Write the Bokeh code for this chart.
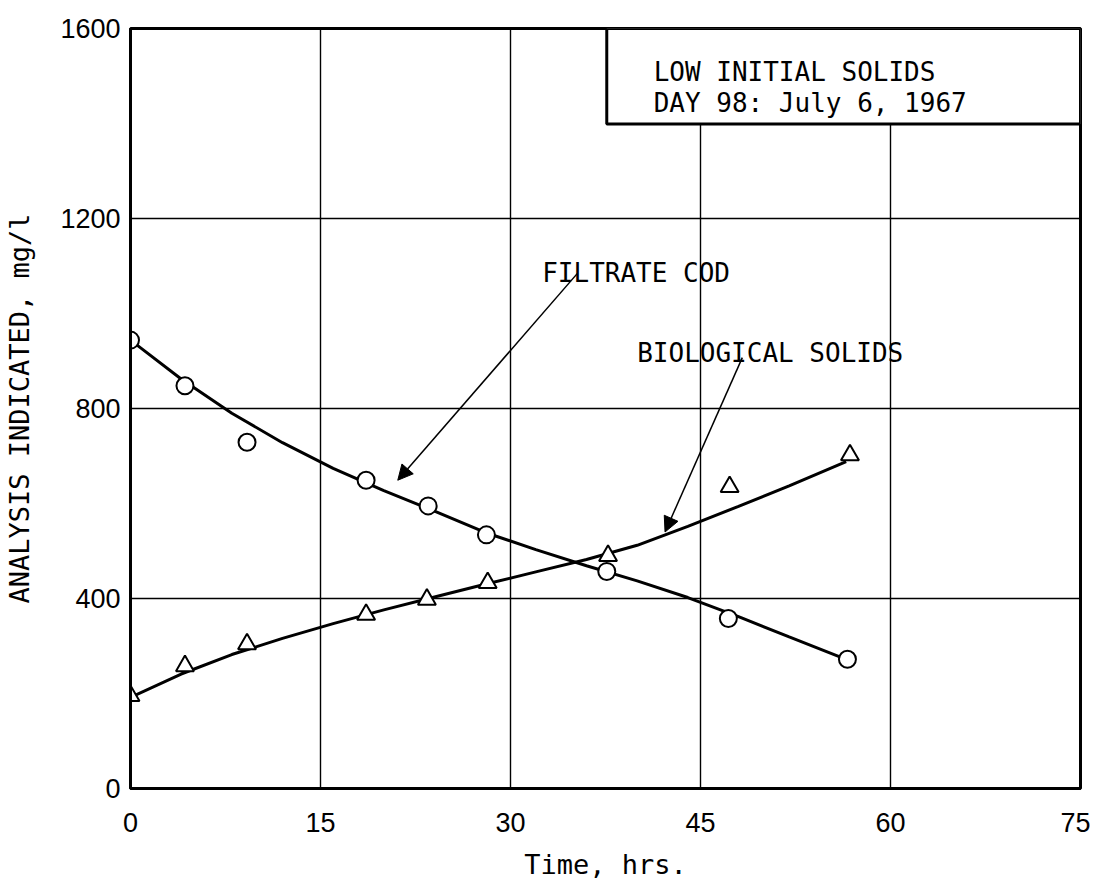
from bokeh.plotting import figure
from bokeh.models import Range1d, FixedTicker, Arrow, NormalHead, Label, BoxAnnotation
from bokeh.embed import file_html
from bokeh.resources import INLINE

# ---- data ----
cod_time = [0, 4.3, 9.2, 18.6, 23.5, 28.1, 37.6, 47.2, 56.6]
cod_mgl = [944, 848, 729, 649, 595, 534, 457, 358, 272]

solids_time = [0, 4.3, 9.2, 18.6, 23.4, 28.2, 37.7, 47.3, 56.8]
solids_mgl = [195, 258, 304, 366, 398, 433, 490, 635, 702]

# hand-drawn fitted curves
curve_time = [0, 4, 8, 12, 16, 20, 24, 28, 32, 36, 40, 44, 48, 52, 56.5]
cod_curve = [944, 862, 790, 728, 674, 627, 584, 539, 503, 469, 437, 402, 362, 319, 272]
solids_curve = [192, 241, 282, 316, 347, 376, 403, 430, 456, 482, 512, 552, 594, 637, 688]

x_ticks = [0, 15, 30, 45, 60, 75]
y_ticks = [0, 400, 800, 1200, 1600]

title_lines = ["LOW INITIAL SOLIDS", "DAY 98: July 6, 1967"]
label_cod = "FILTRATE COD"
label_solids = "BIOLOGICAL SOLIDS"

MONO = "DejaVu Sans Mono"
TICKFONT = "Liberation Sans"

p = figure(width=1090, height=882,
           x_range=Range1d(0, 75), y_range=Range1d(0, 1600),
           output_backend="svg", toolbar_location=None,
           min_border_left=130, min_border_right=10,
           min_border_top=28, min_border_bottom=89)

p.background_fill_color = "white"
p.border_fill_color = "white"
p.outline_line_color = "black"
p.outline_line_width = 3

# axes
for ax, ticks in ((p.xaxis[0], x_ticks), (p.yaxis[0], y_ticks)):
    ax.ticker = FixedTicker(ticks=ticks)
    ax.axis_line_width = 3
    ax.axis_line_color = "black"
    ax.major_tick_line_color = None
    ax.minor_tick_line_color = None
    ax.major_label_text_font = TICKFONT
    ax.major_label_text_font_size = "27px"
    ax.major_label_text_color = "black"
    ax.axis_label_text_font = MONO
    ax.axis_label_text_font_size = "27px"
    ax.axis_label_text_font_style = "normal"
    ax.axis_label_text_color = "black"

p.xaxis.axis_label = "Time, hrs."
p.yaxis.axis_label = "ANALYSIS INDICATED, mg/l"
p.xaxis.major_label_standoff = 18
p.yaxis.major_label_standoff = 4
p.xaxis.axis_label_standoff = 14
p.yaxis.axis_label_standoff = 22

# grid
p.xgrid.ticker = FixedTicker(ticks=x_ticks)
p.ygrid.ticker = FixedTicker(ticks=y_ticks)
for g in (p.xgrid[0], p.ygrid[0]):
    g.grid_line_color = "black"
    g.grid_line_width = 1.4

# curves and points
p.line(curve_time, cod_curve, line_color="black", line_width=3)
p.line(curve_time, solids_curve, line_color="black", line_width=3)
p.scatter(cod_time, cod_mgl, marker="circle", size=17,
          fill_color="white", line_color="black", line_width=2)
p.scatter(solids_time, solids_mgl, marker="triangle", size=18,
          fill_color="white", line_color="black", line_width=2)

# title box (top-right)
p.add_layout(BoxAnnotation(left=37.6, right=75, bottom=1399, top=1600,
                           fill_color="white", fill_alpha=1.0,
                           line_color="black", line_width=3, line_alpha=1.0))
p.add_layout(Label(x=41.3, y=1508, text=title_lines[0], text_font=MONO,
                   text_font_size="26px", text_color="black",
                   text_baseline="alphabetic"))
p.add_layout(Label(x=41.3, y=1443, text=title_lines[1], text_font=MONO,
                   text_font_size="26px", text_color="black",
                   text_baseline="alphabetic"))

# annotation labels
p.add_layout(Label(x=32.5, y=1085, text=label_cod, text_font=MONO,
                   text_font_size="26px", text_color="black",
                   text_baseline="alphabetic"))
p.add_layout(Label(x=40.0, y=917, text=label_solids, text_font=MONO,
                   text_font_size="26px", text_color="black",
                   text_baseline="alphabetic"))

# arrows
p.add_layout(Arrow(end=NormalHead(size=15, fill_color="black", line_color="black"),
                   x_start=35.3, y_start=1085, x_end=21.1, y_end=649,
                   line_color="black", line_width=1.5))
p.add_layout(Arrow(end=NormalHead(size=15, fill_color="black", line_color="black"),
                   x_start=48.3, y_start=907, x_end=42.2, y_end=540,
                   line_color="black", line_width=1.5))

open("out.html", "w").write(file_html(p, INLINE))
